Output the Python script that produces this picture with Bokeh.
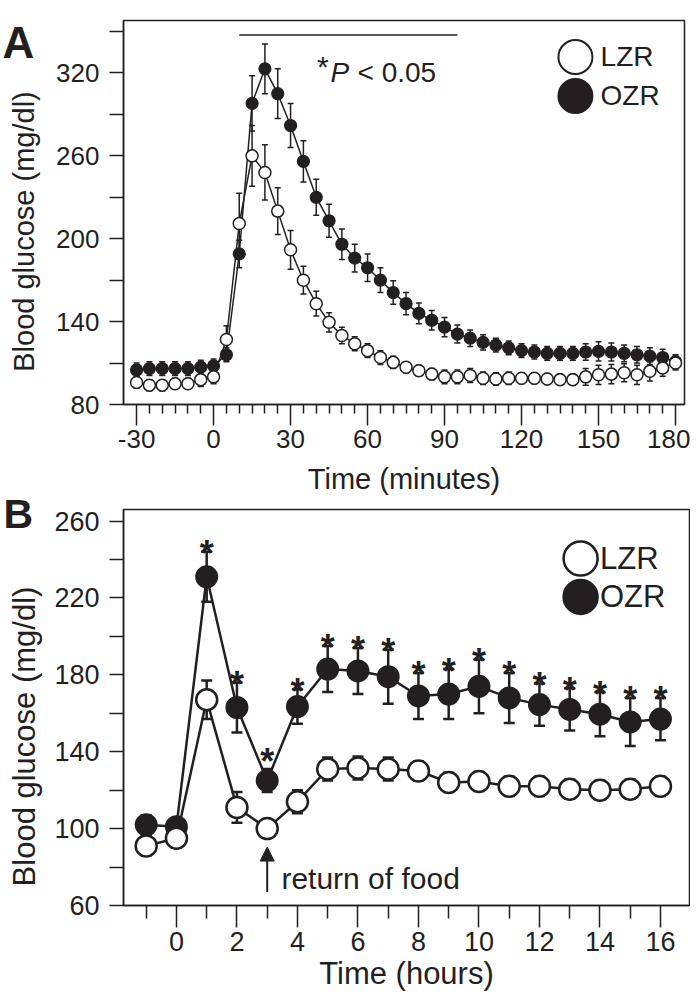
import math
from bokeh.plotting import figure
from bokeh.layouts import column, row
from bokeh.models import FixedTicker, Arrow, NormalHead, Range1d
from bokeh.core.properties import value
from bokeh.embed import file_html
from bokeh.resources import INLINE

FONT = "Liberation Sans"
INK = "#231f20"

# ---------------- Panel A data (minutes) ----------------
time_min = [-30, -25, -20, -15, -10, -5, 0, 5, 10, 15, 20, 25, 30, 35, 40, 45, 50, 55, 60,
            65, 70, 75, 80, 85, 90, 95, 100, 105, 110, 115, 120, 125, 130, 135, 140, 145,
            150, 155, 160, 165, 170, 175, 180]
lzr_a = [96, 94, 94, 95, 95, 98, 100, 127, 211, 260, 248, 220, 192, 170, 153, 139.5, 130,
         124, 119, 114, 110.5, 107, 104.5, 102, 100, 100, 101, 99, 98.5, 99, 99, 99, 98.5,
         98, 98, 100, 101.5, 102, 103, 101.5, 104, 106.5, 110]
lzr_a_sem = [4, 4, 4, 4, 4, 5, 5, 10, 22, 22, 20, 17, 14, 10, 9, 7, 6, 5, 5, 5, 4.5, 4, 4,
             4, 5, 5, 5, 4.5, 4.5, 4.5, 4, 4, 4, 4, 4, 6, 7, 7, 6.5, 7, 7, 6, 5]
ozr_a = [105, 106, 106, 106, 106, 107, 108, 116, 189, 298, 323, 305, 282, 256, 230, 213,
         196, 186, 179, 170, 161, 153, 146, 141, 136, 131, 128, 125, 123, 121, 119, 118,
         117, 117, 117, 118, 118.5, 118, 117, 116, 115, 114, 111]
ozr_a_sem = [5, 5, 5, 5, 5, 5, 5, 5, 10, 20, 18, 18, 16, 15, 13, 12, 11, 10, 10, 9, 8.5, 8,
             7.5, 7, 7, 6.5, 6, 5.5, 5, 5, 5, 5, 5, 5, 5, 6, 7, 6.5, 6, 6, 6, 6, 5]
a_x_major = [-30, 0, 30, 60, 90, 120, 150, 180]
a_y_major = [80, 140, 200, 260, 320]
a_y_minor = [110, 170, 230, 290, 350]
sig_span_a = [10, 95]

# ---------------- Panel B data (hours) ----------------
time_h = [-1, 0, 1, 2, 3, 4, 5, 6, 7, 8, 9, 10, 11, 12, 13, 14, 15, 16]
lzr_b = [91, 95, 167, 111, 100, 114, 131, 131.5, 131, 130, 124, 124.5, 122, 122, 120.5,
         120, 120.5, 122]
lzr_b_sem = [5, 5, 10, 8, 3, 6, 6, 6, 6, 5, 5, 5, 5, 5, 5, 5, 5, 5]
ozr_b = [102, 101, 231, 163, 125, 163.5, 183, 182, 179, 169, 170, 174, 168, 164.5, 162,
         159.5, 155.5, 157]
ozr_b_sem = [5, 4, 13, 13, 6, 9, 12, 12, 14, 12, 13, 14, 13, 11, 11, 11.5, 12.5, 11]
star_hours_b = [1, 2, 3, 4, 5, 6, 7, 8, 9, 10, 11, 12, 13, 14, 15, 16]
b_x_major = [0, 2, 4, 6, 8, 10, 12, 14, 16]
b_x_minor = [-1, 1, 3, 5, 7, 9, 11, 13, 15]
b_y_major = [60, 100, 140, 180, 220, 260]
b_y_minor = [80, 120, 160, 200, 240]
food_hour = 3

Y_LABEL = "Blood glucose (mg/dl)"
STRIP = 44


def make_fig(xr, yr, fw, fh, bl, bt, bb, br):
    p = figure(x_range=Range1d(*xr), y_range=Range1d(*yr), frame_width=fw, frame_height=fh,
               min_border_left=bl, min_border_top=bt, min_border_bottom=bb,
               min_border_right=br, output_backend="svg", toolbar_location=None)
    p.grid.visible = False
    p.outline_line_color = INK
    p.outline_line_width = 1.5
    p.outline_line_alpha = 1
    return p


def style_axis(ax, tick_size, label_size, tick_out, minor_out, lab_stand, ax_stand):
    ax.axis_line_color = INK
    ax.axis_line_width = 1.5
    ax.major_tick_line_color = INK
    ax.major_tick_line_width = 1.5
    ax.minor_tick_line_color = INK
    ax.minor_tick_line_width = 1.5
    ax.major_tick_in = 0
    ax.minor_tick_in = 0
    ax.major_tick_out = tick_out
    ax.minor_tick_out = minor_out
    ax.major_label_text_font = FONT
    ax.major_label_text_font_size = f"{tick_size}px"
    ax.major_label_text_color = INK
    ax.axis_label_text_font = FONT
    ax.axis_label_text_font_size = f"{label_size}px"
    ax.axis_label_text_font_style = "normal"
    ax.axis_label_text_color = INK
    ax.major_label_standoff = lab_stand
    ax.axis_label_standoff = ax_stand


def errbars(p, x, y, e, cap, lw):
    lo = [a - b for a, b in zip(y, e)]
    hi = [a + b for a, b in zip(y, e)]
    p.segment(x, lo, x, hi, line_color=INK, line_width=lw)
    p.scatter(x, hi, marker="dash", size=cap, line_color=INK, line_width=lw)
    p.scatter(x, lo, marker="dash", size=cap, line_color=INK, line_width=lw)


def txt(p, x, y, s, size, style="normal", align="left", baseline="alphabetic", angle=0):
    p.text(x=[x], y=[y], text=[s], angle=angle, text_font=value(FONT),
           text_font_size=f"{size}px", text_font_style=style, text_color=INK,
           text_align=align, text_baseline=baseline)


# ================= left strip: panel letters and y titles =================
pL = figure(x_range=Range1d(0, STRIP), y_range=Range1d(989, 0), frame_width=STRIP,
            frame_height=989, min_border_left=0, min_border_right=0, min_border_top=0,
            min_border_bottom=0, x_axis_type=None, y_axis_type=None,
            output_backend="svg", toolbar_location=None)
pL.outline_line_color = None
txt(pL, 2, 42, "A", 44, style="bold")
txt(pL, 3, 513, "B", 41, style="bold")
txt(pL, 23.5, 231, Y_LABEL, 29, align="center", baseline="middle", angle=math.pi / 2)
txt(pL, 23.5, 736, Y_LABEL, 31, align="center", baseline="middle", angle=math.pi / 2)

# ================= Panel A =================
pA = make_fig((-35.1, 183.5), (80, 358), 561, 384, 123 - STRIP, 20, 93, 6)
style_axis(pA.xaxis[0], 26, 29, 21, 9, 4, 12)
style_axis(pA.yaxis[0], 26, 29, 14, 14, 10, 15)
pA.xaxis.ticker = FixedTicker(ticks=a_x_major,
                              minor_ticks=[t for t in time_min if t not in a_x_major])
pA.xaxis.major_label_overrides = {-30: "-30"}
pA.yaxis.ticker = FixedTicker(ticks=a_y_major, minor_ticks=a_y_minor)
pA.xaxis.axis_label = "Time (minutes)"

errbars(pA, time_min, ozr_a, ozr_a_sem, 6, 1.5)
errbars(pA, time_min, lzr_a, lzr_a_sem, 6, 1.5)
pA.line(time_min, ozr_a, line_color=INK, line_width=1.5)
pA.line(time_min, lzr_a, line_color=INK, line_width=1.5)
pA.scatter(time_min, ozr_a, marker="circle", size=12, fill_color=INK, line_color=INK,
           line_width=1.2)
pA.scatter(time_min, lzr_a, marker="circle", size=12, fill_color="white", line_color=INK,
           line_width=1.5)

# significance bar
pA.line(sig_span_a, [347.5, 347.5], line_color=INK, line_width=1.5)
txt(pA, 40.3, 324.5, "*", 30)
txt(pA, 45.6, 320, "P", 28, style="italic")
txt(pA, 56.1, 320, "< 0.05", 28)

# legend A
pA.scatter([141, 141], [331.6, 303.4], marker="circle", size=34,
           fill_color=["white", INK], line_color=INK, line_width=2)
txt(pA, 150.8, 331.6, "LZR", 28, baseline="middle")
txt(pA, 150.8, 303.4, "OZR", 28, baseline="middle")

# ================= Panel B =================
pB = make_fig((-1.75, 16.96), (60, 266), 566, 396, 118 - STRIP, 12, 84, 6)
style_axis(pB.xaxis[0], 27, 31, 22, 13, 4, 2)
style_axis(pB.yaxis[0], 27, 31, 14, 14, 10, 8)
pB.xaxis.ticker = FixedTicker(ticks=b_x_major, minor_ticks=b_x_minor)
pB.yaxis.ticker = FixedTicker(ticks=b_y_major, minor_ticks=b_y_minor)
pB.xaxis.axis_label = "Time (hours)"

errbars(pB, time_h, ozr_b, ozr_b_sem, 11, 2.5)
errbars(pB, time_h, lzr_b, lzr_b_sem, 11, 2.5)
pB.line(time_h, ozr_b, line_color=INK, line_width=2.5)
pB.line(time_h, lzr_b, line_color=INK, line_width=2.5)
pB.scatter(time_h, ozr_b, marker="circle", size=21, fill_color=INK, line_color=INK,
           line_width=2)
pB.scatter(time_h, lzr_b, marker="circle", size=21, fill_color="white", line_color=INK,
           line_width=2.5)

# significance stars (the one at the 3-h nadir sits a little higher, as in the original)
star_y = [ozr_b[time_h.index(h)] + ozr_b_sem[time_h.index(h)] for h in star_hours_b]
star_dy = [-8 if h == food_hour else 2 for h in star_hours_b]
pB.text(x=star_hours_b, y=star_y, text=["*"] * len(star_hours_b), y_offset=star_dy,
        text_font=value(FONT), text_font_size="36px", text_font_style="bold",
        text_color=INK, text_align="center", text_baseline="alphabetic")

# return of food
pB.add_layout(Arrow(end=NormalHead(size=14, fill_color=INK, line_color=INK, line_width=1),
                    x_start=food_hour, y_start=67, x_end=food_hour, y_end=90.4,
                    line_color=INK, line_width=2))
txt(pB, 3.47, 74, "return of food", 30)

# legend B
pB.scatter([13.36, 13.36], [240.5, 220.5], marker="circle", size=34,
           fill_color=["white", INK], line_color=INK, line_width=2.5)
txt(pB, 14.0, 240.5, "LZR", 31, baseline="middle")
txt(pB, 14.0, 220.5, "OZR", 31, baseline="middle")

layout = row(pL, column(pA, pB))
open("out.html", "w").write(file_html(layout, INLINE))
